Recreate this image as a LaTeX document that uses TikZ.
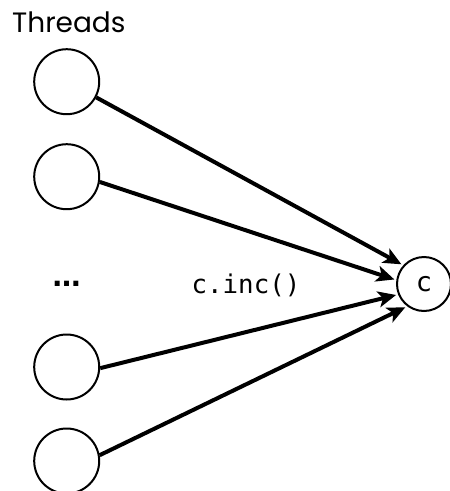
\documentclass[tikz,border=0pt]{standalone}
\usepackage{fontspec}
\setmainfont{Poppins}
\newfontfamily\monofont{DejaVu Sans Mono}
\newfontfamily\dotsfont{DejaVu Sans}
\usetikzlibrary{arrows.meta}
\begin{document}
\begin{tikzpicture}[x=1pt,y=-1pt,
  thread/.style={circle,draw,line width=2pt,minimum size=65pt,inner sep=0pt},
  counter/.style={circle,draw,line width=2pt,minimum size=54pt,inner sep=0pt,
    font=\monofont\fontsize{27}{30}\selectfont},
  call/.style={line width=4pt,-{Stealth[length=18pt,width=16pt,inset=4.5pt]},shorten >=2pt},
  lbl/.style={inner sep=0pt,anchor=base}]
\useasboundingbox (0,0) rectangle (450,491);
\node[lbl,anchor=base west,font=\fontsize{28}{32}\selectfont] (title) at (12,32) {Threads};
\node[thread] (t1) at (66.7,81.7) {};
\node[thread] (t2) at (66.7,176.7) {};
\node[thread] (t3) at (66.7,367) {};
\node[thread] (t4) at (66.7,461) {};
\node[counter] (c) at (424,284) {c};
\node[lbl,font=\dotsfont\bfseries\fontsize{28}{30}\selectfont] (dots) at (66.5,286) {…};
\node[lbl,font=\monofont\fontsize{25.8}{30}\selectfont] (inc) at (246,293) {c.inc()};
\draw[call] (t1.332) -- (c.138);
\draw[call] (t2.351) -- (c.172);
\draw[call] (t3.358) -- (c.202);
\draw[call] (t4.10) -- (c.233);
\end{tikzpicture}
\end{document}
